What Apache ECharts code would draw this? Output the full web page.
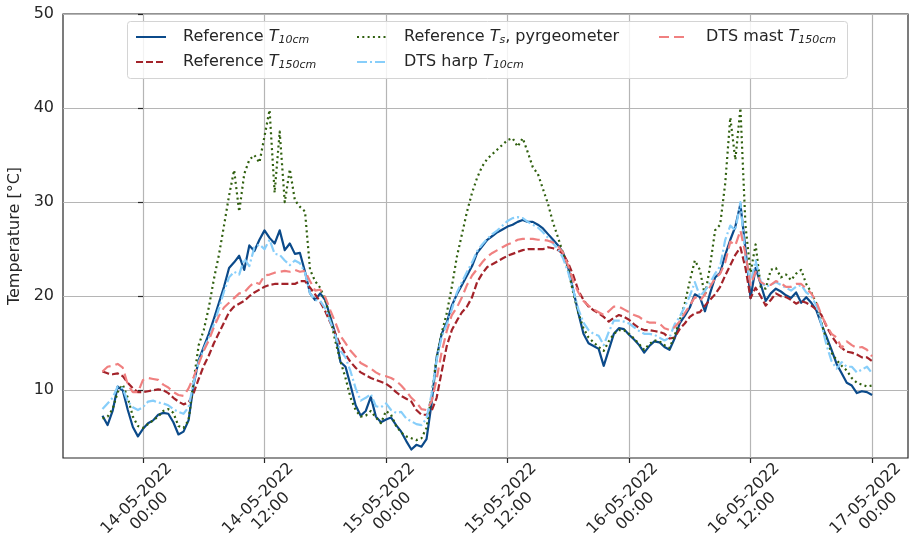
<!DOCTYPE html>
<html>
<head>
<meta charset="utf-8">
<title>Temperature comparison</title>
<script src="https://cdn.jsdelivr.net/npm/echarts@6/dist/echarts.min.js"></script>
<style>
  html, body { margin: 0; padding: 0; background: #ffffff; }
  #chart { width: 910px; height: 554px; }
</style>
</head>
<body>
<div id="chart"></div>
<script>
// Sampling grid: hours relative to 14-05-2022 00:00, every 30 minutes (13-05 20:00 .. 17-05 00:00)
const startHour = -4;
const stepHour = 0.5;

// Reference T10cm
const refT10 = [
  7.3, 6.3, 7.8, 10.4, 10.0, 7.9, 6.1, 5.1, 5.9, 6.5, 6.8, 7.4, 7.6, 7.5, 6.6, 5.3, 5.6, 6.8, 10.6, 13.2,
  14.6, 16.0, 17.6, 19.3, 21.0, 23.0, 23.6, 24.3, 22.8, 25.4, 24.8, 26.0, 27.0, 26.2, 25.6, 27.0, 24.9, 25.6, 24.5, 24.6,
  22.6, 20.3, 19.6, 20.3, 19.6, 17.8, 16.0, 13.0, 12.5, 10.5, 8.4, 7.3, 7.8, 9.3, 7.2, 6.6, 6.9, 7.1, 6.3, 5.6,
  4.6, 3.7, 4.2, 4.0, 4.8, 8.6, 13.5, 16.0, 17.2, 19.0, 20.2, 21.2, 22.2, 23.2, 24.6, 25.3, 26.0, 26.4, 26.8, 27.1,
  27.4, 27.6, 27.9, 28.1, 27.9, 27.9, 27.6, 27.2, 26.6, 26.0, 25.4, 24.6, 23.0, 20.6, 18.2, 16.0, 15.0, 14.7, 14.4, 12.6,
  14.3, 16.0, 16.6, 16.5, 15.9, 15.4, 14.8, 14.0, 14.7, 15.2, 15.1, 14.6, 14.3, 15.5, 17.1, 17.9, 18.8, 20.2, 19.9, 18.4,
  20.3, 22.0, 22.5, 24.4, 26.0, 27.4, 29.8, 25.0, 19.8, 23.0, 21.3, 19.5, 20.3, 20.8, 20.5, 20.1, 19.8, 20.4, 19.3, 19.9,
  19.3, 18.5, 17.0, 15.7, 14.3, 12.8, 11.8, 10.8, 10.5, 9.7, 9.9, 9.8, 9.5
];

// Reference T150cm
const refT150 = [
  12.0, 11.8, 11.7, 11.8, 11.5, 10.8, 10.2, 9.8, 9.8, 9.9, 10.0, 10.1, 10.0, 9.7, 9.2, 8.8, 8.5, 8.7, 9.7, 11.2,
  12.6, 13.7, 15.0, 16.1, 17.2, 18.3, 18.9, 19.2, 19.5, 20.0, 20.4, 20.7, 21.0, 21.2, 21.3, 21.3, 21.3, 21.3, 21.3, 21.6,
  21.6, 20.9, 20.2, 19.4, 18.4, 17.2, 16.0, 14.8, 13.8, 13.0, 12.4, 11.9, 11.6, 11.3, 11.1, 10.9, 10.7, 10.3, 9.8, 9.4,
  9.1, 8.8, 7.9, 7.4, 7.4, 7.8, 9.2, 12.0, 14.7, 16.4, 17.4, 18.3, 18.9, 19.9, 21.5, 22.4, 23.1, 23.4, 23.7, 24.0,
  24.3, 24.5, 24.7, 24.9, 25.0, 25.0, 25.0, 25.0, 25.2, 25.1, 24.9, 24.5, 23.5, 22.2, 20.6, 19.6, 18.9, 18.5, 18.2, 17.8,
  17.3, 17.7, 18.0, 17.8, 17.5, 17.0, 16.6, 16.4, 16.4, 16.3, 16.2, 16.0, 15.5, 15.6, 16.5, 17.1, 17.8, 18.2, 18.3, 19.0,
  19.6, 20.2, 21.0, 22.2, 23.3, 24.4, 25.2, 23.0, 19.8, 20.9, 20.0, 19.0, 19.6, 20.3, 20.0, 19.9, 19.6, 19.2, 19.5, 19.3,
  19.0, 18.6, 18.0, 16.8, 15.8, 15.0, 14.5, 14.1, 14.0, 13.8, 13.5, 13.5, 13.1
];

// Reference Ts, pyrgeometer
const refTs = [
  7.0, 7.2, 8.0, 9.8, 10.6, 9.2, 7.2, 6.2, 6.0, 6.4, 6.8, 7.2, 7.8, 8.0, 7.6, 6.2, 6.0, 6.8, 11.0, 14.8,
  16.4, 18.8, 21.8, 24.4, 27.5, 30.7, 33.4, 29.0, 33.0, 34.5, 35.0, 34.2, 37.0, 39.8, 31.0, 37.5, 30.0, 33.5, 30.2, 29.5,
  29.0, 22.8, 21.6, 20.9, 19.6, 17.6, 15.2, 13.1, 11.3, 9.2, 7.9, 7.2, 7.3, 7.8, 7.1, 6.5, 7.8, 7.4, 6.2, 5.5,
  5.1, 4.9, 4.7, 4.9, 6.0, 9.5, 13.5, 16.1, 18.2, 21.0, 24.2, 26.6, 29.0, 31.0, 32.6, 33.8, 34.6, 35.1, 35.6, 36.1,
  36.6, 36.8, 35.9, 36.8, 35.3, 33.7, 33.0, 31.4, 29.8, 27.8, 26.2, 24.5, 22.8, 20.3, 18.2, 16.6, 15.6, 15.1, 14.6, 14.2,
  15.2, 16.0, 16.4, 16.4, 16.0, 15.5, 14.9, 14.3, 14.9, 15.3, 15.2, 14.8, 14.5, 15.8, 17.4, 19.2, 21.6, 23.8, 22.8, 20.0,
  23.2, 27.0, 27.6, 32.0, 39.0, 34.5, 40.0, 27.5, 22.5, 25.5, 21.0, 20.8, 22.8, 23.0, 22.0, 22.3, 21.7, 22.4, 22.8, 21.3,
  20.4, 19.2, 17.2, 15.3, 14.0, 13.2, 12.6, 12.1, 11.3, 10.8, 10.6, 10.4, 10.5
];

// DTS harp T10cm
const dtsHarpT10 = [
  8.0, 8.6, 9.2, 10.4, 10.2, 8.8, 8.2, 7.9, 8.2, 8.8, 8.9, 8.7, 8.6, 8.4, 8.0, 7.7, 7.5, 8.2, 10.8, 13.0,
  14.4, 15.6, 17.0, 18.7, 20.5, 22.0, 22.6, 22.3, 24.0, 23.2, 25.2, 25.5, 25.0, 26.0, 24.5, 24.4, 23.8, 23.3, 23.8, 23.5,
  22.5, 20.3, 19.6, 19.5, 18.7, 17.3, 15.8, 14.2, 13.5, 12.0, 10.2, 8.9, 9.2, 9.6, 8.3, 8.2, 8.6, 7.9, 7.6, 7.7,
  7.0, 6.7, 6.4, 6.3, 7.0, 9.6, 13.2, 15.7, 17.0, 18.6, 20.4, 21.5, 22.6, 23.6, 24.8, 25.5, 26.1, 26.6, 27.0, 27.5,
  28.0, 28.3, 28.4, 28.3, 27.9, 27.6, 27.3, 26.8, 26.2, 25.6, 25.0, 24.0, 22.5, 20.6, 18.6, 17.2, 16.4, 16.0, 15.8, 14.8,
  16.2, 17.4, 17.4, 17.3, 17.1, 16.7, 16.3, 16.0, 16.0, 15.9, 15.6, 15.3, 15.6, 17.0, 17.8, 18.9, 20.0, 21.5, 20.0, 20.6,
  21.4, 22.4, 23.2, 26.0, 27.5, 27.0, 30.0, 24.0, 21.4, 23.8, 21.6, 21.0, 21.2, 21.5, 21.2, 20.9, 20.6, 21.0, 21.2, 20.4,
  20.0, 19.0, 17.0, 14.8, 13.1, 12.3, 13.0, 12.5, 12.5, 11.9, 12.2, 12.5, 11.8
];

// DTS mast T150cm
const dtsMastT150 = [
  12.0, 12.5, 12.6, 12.8, 12.4, 10.6, 9.8, 9.8, 11.1, 11.3, 11.2, 11.1, 10.6, 10.3, 9.8, 9.5, 9.4, 10.2, 11.4, 12.8,
  14.2, 15.3, 16.7, 17.9, 18.8, 19.3, 19.8, 20.3, 20.4, 21.0, 21.5, 21.3, 22.2, 22.3, 22.5, 22.6, 22.7, 22.6, 22.8, 22.6,
  22.7, 21.6, 20.6, 20.7, 19.9, 18.5, 17.2, 15.8, 15.0, 14.2, 13.6, 12.9, 12.6, 12.3, 11.9, 11.6, 11.5, 11.3, 11.0, 10.5,
  9.9, 9.2, 8.7, 8.0, 7.9, 8.8, 11.2, 14.1, 16.3, 18.0, 18.8, 19.9, 21.2, 22.2, 22.9, 23.6, 24.2, 24.6, 24.9, 25.2,
  25.5, 25.7, 26.0, 26.1, 26.1, 26.1, 26.0, 26.0, 25.9, 25.7, 25.3, 24.6, 23.2, 21.6, 20.4, 19.5, 19.0, 18.6, 18.3, 18.0,
  18.4, 18.9, 18.9, 18.6, 18.3, 18.0, 17.8, 17.4, 17.2, 17.2, 17.1, 16.6, 16.4, 16.7, 17.3, 18.2, 19.0, 19.9, 19.5, 20.2,
  21.0, 21.9, 22.4, 23.6, 25.8, 25.4, 27.0, 24.5, 21.2, 22.6, 21.5, 21.2, 21.2, 21.6, 21.4, 21.0, 21.0, 21.3, 21.3, 20.8,
  20.3, 19.4, 18.0, 16.9, 16.0, 15.6, 14.5, 15.2, 14.8, 14.5, 14.6, 14.3, 13.6
];

// Axis ticks
const xTickHours = [0, 12, 24, 36, 48, 60, 72];
const xTickLabels = [
  '14-05-2022\n00:00', '14-05-2022\n12:00',
  '15-05-2022\n00:00', '15-05-2022\n12:00',
  '16-05-2022\n00:00', '16-05-2022\n12:00',
  '17-05-2022\n00:00'
];
const yTickValues = [10, 20, 30, 40, 50];

const FONT = 'DejaVu Sans';
const TXT = '#262626';

const hours = refT10.map((_, i) => startHour + i * stepHour);
const toPairs = arr => arr.map((v, i) => [hours[i], v]);

const seriesDefs = [
  { name: 'Reference T10cm', data: refT10, color: '#0b4a8a', dash: 'solid' },
  { name: 'Reference T150cm', data: refT150, color: '#a3232a', dash: [7, 3] },
  { name: 'Reference Ts, pyrgeometer', data: refTs, color: '#2f5f0e', dash: [2, 3.3] },
  { name: 'DTS harp T10cm', data: dtsHarpT10, color: '#87cefa', dash: [10, 3, 2, 3] },
  { name: 'DTS mast T150cm', data: dtsMastT150, color: '#f08080', dash: [10, 5] }
];

const legendLabels = {
  'Reference T10cm': '{g|}{n|Reference }{t|T}{s|10cm}',
  'Reference T150cm': '{g|}{n|Reference }{t|T}{s|150cm}',
  'Reference Ts, pyrgeometer': '{g|}{n|Reference }{t|T}{s|s}{n|, pyrgeometer}',
  'DTS harp T10cm': '{g|}{n|DTS harp }{t|T}{s|10cm}',
  'DTS mast T150cm': '{g|}{n|DTS mast }{t|T}{s|150cm}'
};

const legendText = {
  color: TXT,
  fontFamily: FONT,
  fontSize: 16,
  rich: {
    g: { width: 12 },
    n: { fontSize: 16, fontFamily: FONT, color: TXT, lineHeight: 18, verticalAlign: 'middle' },
    t: { fontSize: 16, fontFamily: FONT, fontStyle: 'italic', color: TXT, lineHeight: 18, verticalAlign: 'middle' },
    s: { fontSize: 11, fontFamily: FONT, fontStyle: 'italic', color: TXT, lineHeight: 10, verticalAlign: 'bottom' }
  }
};

function legendBlock(names, left) {
  return {
    data: names,
    left: left,
    top: 29,
    orient: 'vertical',
    itemWidth: 30,
    itemHeight: 14,
    itemGap: 8,
    padding: 0,
    selectedMode: false,
    itemStyle: { color: 'transparent', borderColor: 'transparent', borderWidth: 0 },
    formatter: name => legendLabels[name],
    textStyle: legendText
  };
}

const chart = echarts.init(document.getElementById('chart'), null, { renderer: 'canvas' });

chart.setOption({
  animation: false,
  backgroundColor: '#ffffff',
  grid: {
    left: 63, right: 2, top: 14, bottom: 96,
    outerBoundsMode: 'none',
    containLabel: false,
    show: true, borderColor: '#262626', borderWidth: 1.2, backgroundColor: 'transparent'
  },
  legend: [
    legendBlock(['Reference T10cm', 'Reference T150cm'], 135),
    legendBlock(['Reference Ts, pyrgeometer', 'DTS harp T10cm'], 356),
    legendBlock(['DTS mast T150cm'], 658)
  ],
  graphic: [{
    type: 'rect',
    left: 127, top: 21,
    shape: { width: 720, height: 57, r: 3 },
    style: { fill: 'rgba(255,255,255,0.82)', stroke: '#d4d4d4', lineWidth: 1 },
    z: 3
  }],
  xAxis: {
    type: 'value',
    min: -7.9,
    max: 75.55,
    axisLine: { show: false },
    axisTick: { show: true, length: 5, customValues: xTickHours, lineStyle: { color: TXT, width: 1.2 } },
    axisLabel: {
      customValues: xTickHours,
      formatter: v => xTickLabels[xTickHours.indexOf(v)],
      rotate: 45,
      align: 'center',
      verticalAlign: 'middle',
      margin: 47,
      fontSize: 16,
      lineHeight: 18,
      fontFamily: FONT,
      color: TXT
    },
    splitLine: { show: true, lineStyle: { color: '#b5b5b5', width: 1.2 } }
  },
  yAxis: {
    type: 'value',
    min: 2.8,
    max: 50,
    name: 'Temperature [°C]',
    nameLocation: 'middle',
    nameGap: 39,
    nameTextStyle: { fontSize: 16, fontFamily: FONT, color: TXT },
    axisLine: { show: false },
    axisTick: { show: true, length: 5, customValues: yTickValues, lineStyle: { color: TXT, width: 1.2 } },
    axisLabel: { customValues: yTickValues, margin: 9, fontSize: 16, fontFamily: FONT, color: TXT },
    splitLine: { show: true, lineStyle: { color: '#b5b5b5', width: 1.2 } }
  },
  series: seriesDefs.map(s => ({
    name: s.name,
    type: 'line',
    data: toPairs(s.data),
    symbol: 'none',
    showSymbol: false,
    color: s.color,
    lineStyle: { color: s.color, width: 2.2, type: s.dash, cap: 'butt', join: 'round' },
    itemStyle: { color: s.color },
    emphasis: { disabled: true },
    z: 2
  }))
});
</script>
</body>
</html>
